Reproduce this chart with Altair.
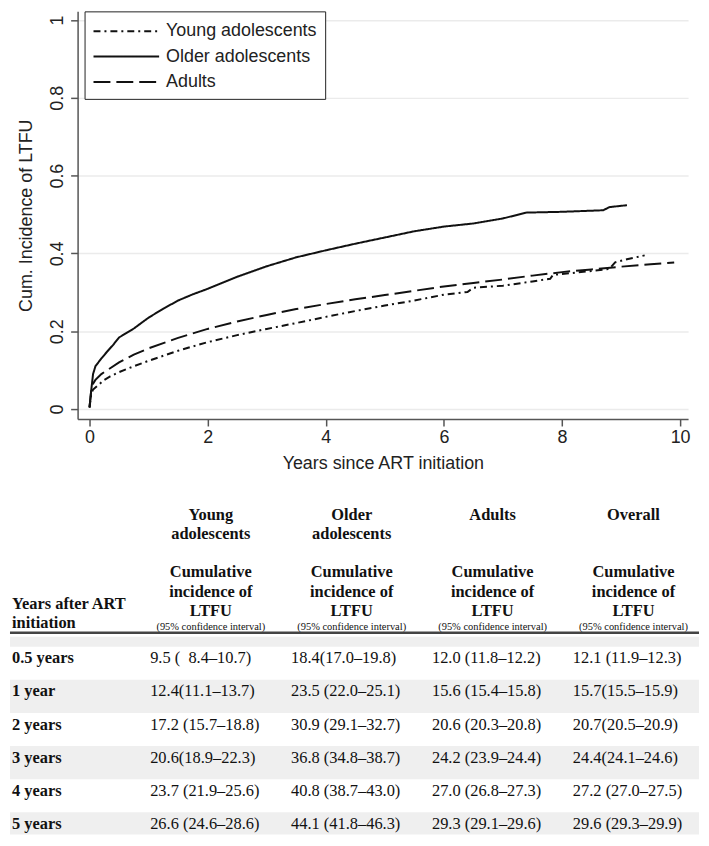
import altair as alt
import pandas as pd

# ---------------- curve data ----------------
groups = ["Young adolescents", "Older adolescents", "Adults"]

young_years = [0.0, 0.03, 0.06, 0.15, 0.25, 0.35, 0.5, 0.75, 1.0, 1.5,
               2.0, 2.5, 3.0, 3.5, 4.0, 4.5, 5.0, 5.5, 6.0, 6.4,
               6.5, 7.0, 7.5, 7.8, 7.85, 8.0, 8.5, 8.8, 8.9, 9.1, 9.4]
young_cum = [0.003, 0.04, 0.05, 0.062, 0.075, 0.084, 0.095, 0.11, 0.124, 0.15,
             0.172, 0.19, 0.206, 0.221, 0.237, 0.252, 0.266, 0.279, 0.294, 0.301,
             0.312, 0.317, 0.328, 0.335, 0.345, 0.347, 0.355, 0.36, 0.377, 0.385, 0.395]

older_years = [0.0, 0.03, 0.06, 0.1, 0.2, 0.3, 0.4, 0.5, 0.75, 1.0,
               1.25, 1.5, 1.75, 2.0, 2.5, 3.0, 3.5, 4.0, 4.5, 5.0,
               5.5, 6.0, 6.5, 7.0, 7.4, 8.0, 8.7, 8.8, 9.1]
older_cum = [0.005, 0.05, 0.09, 0.11, 0.13, 0.148, 0.165, 0.184, 0.207, 0.235,
             0.258, 0.279, 0.295, 0.309, 0.34, 0.367, 0.39, 0.408, 0.425, 0.441,
             0.457, 0.469, 0.477, 0.49, 0.505, 0.507, 0.511, 0.519, 0.524]

adult_years = [0.0, 0.03, 0.06, 0.1, 0.2, 0.35, 0.5, 0.75, 1.0, 1.5,
               2.0, 2.5, 3.0, 3.5, 4.0, 4.5, 5.0, 5.5, 6.0, 6.5,
               7.0, 7.5, 8.0, 8.5, 9.0, 9.5, 9.9]
adult_cum = [0.005, 0.05, 0.065, 0.075, 0.09, 0.105, 0.12, 0.14, 0.156, 0.183,
             0.206, 0.225, 0.242, 0.257, 0.27, 0.282, 0.293, 0.304, 0.315, 0.324,
             0.333, 0.343, 0.352, 0.359, 0.366, 0.372, 0.377]

x_ticks = [0, 2, 4, 6, 8, 10]
y_ticks = [0, 0.2, 0.4, 0.6, 0.8, 1]

# ---------------- table data ----------------
row_labels = ["0.5 years", "1 year", "2 years", "3 years", "4 years", "5 years"]
col_names = ["Young\nadolescents", "Older\nadolescents", "Adults", "Overall"]
young_ci = ["\u00a09.5 (\u00a0\u00a08.4\u201310.7)", "12.4(11.1\u201313.7)", "17.2 (15.7\u201318.8)",
            "20.6(18.9\u201322.3)", "23.7 (21.9\u201325.6)", "26.6 (24.6\u201328.6)"]
older_ci = ["18.4(17.0\u201319.8)", "23.5 (22.0\u201325.1)", "30.9 (29.1\u201332.7)",
            "36.8 (34.8\u201338.7)", "40.8 (38.7\u201343.0)", "44.1 (41.8\u201346.3)"]
adults_ci = ["12.0 (11.8\u201312.2)", "15.6 (15.4\u201315.8)", "20.6 (20.3\u201320.8)",
             "24.2 (23.9\u201324.4)", "27.0 (26.8\u201327.3)", "29.3 (29.1\u201329.6)"]
overall_ci = ["12.1 (11.9\u201312.3)", "15.7(15.5\u201315.9)", "20.7(20.5\u201320.9)",
              "24.4(24.1\u201324.6)", "27.2 (27.0\u201327.5)", "29.6 (29.3\u201329.9)"]
stub_title = "Years after ART\ninitiation"
measure_title = "Cumulative\nincidence of\nLTFU"
ci_note = "(95% confidence interval)"

# ---------------- build tables ----------------
curve_rows = []
for g, ts, vs in zip(groups, [young_years, older_years, adult_years],
                     [young_cum, older_cum, adult_cum]):
    for t, v in zip(ts, vs):
        curve_rows.append({"group": g, "years": t, "cum": v})
curve_df = pd.DataFrame(curve_rows)

cells = []
for c, vals in enumerate([young_ci, older_ci, adults_ci, overall_ci], start=1):
    for r, txt in enumerate(vals):
        cells.append({"col": c, "row": r, "txt": txt})
cells_df = pd.DataFrame(cells)
rows_df = pd.DataFrame({"row": list(range(len(row_labels))), "label": row_labels,
                        "shade": [r % 2 == 1 for r in range(len(row_labels))]})
cols_df = pd.DataFrame({"col": [1, 2, 3, 4], "name": col_names,
                        "measure": [measure_title] * 4, "note": [ci_note] * 4})
stub_df = pd.DataFrame({"stub": [stub_title]})

# ---------------- styles ----------------
SANS = "Liberation Sans"
SERIF = "Liberation Serif"
dashes = [[7, 4, 2, 4], [1, 0], [17, 6]]
PW, PH = 614, 410

# ---------------- curves ----------------
lines = alt.Chart(curve_df).mark_line(color="#111", strokeWidth=2).encode(
    x=alt.X("years:Q",
            scale=alt.Scale(domain=[-0.202, 10.135], nice=False, zero=False),
            axis=alt.Axis(title="Years since ART initiation", values=x_ticks, grid=False,
                          labelFont=SANS, labelFontSize=18, labelColor="#222",
                          titleFont=SANS, titleFontSize=18, titleFontWeight="normal",
                          titleColor="#222", titlePadding=8, labelPadding=3,
                          tickSize=7, tickColor="#555", domainColor="#555",
                          domainWidth=1.5, tickWidth=1.5, labelFlush=False)),
    y=alt.Y("cum:Q",
            scale=alt.Scale(domain=[-0.0256, 1.0222], nice=False, zero=False),
            axis=alt.Axis(title="Cum. Incidence of LTFU", values=y_ticks, format="~g",
                          labelAngle=270, labelAlign="center", labelBaseline="bottom",
                          labelFont=SANS, labelFontSize=18, labelColor="#222",
                          titleFont=SANS, titleFontSize=18, titleFontWeight="normal",
                          titleColor="#222", titlePadding=13, labelPadding=4,
                          tickSize=7, tickColor="#555", domainColor="#555",
                          domainWidth=1.5, tickWidth=1.5, labelFlush=False,
                          grid=True, gridColor="#ebebeb", gridWidth=1.5)),
    strokeDash=alt.StrokeDash("group:N",
                              scale=alt.Scale(domain=groups, range=dashes),
                              sort=groups,
                              legend=alt.Legend(title=None, orient="none", legendX=7, legendY=0,
                                                direction="vertical",
                                                fillColor="white", strokeColor="#222",
                                                padding=8, labelFont=SANS, labelFontSize=18,
                                                labelColor="#222", symbolType="M-1,0H5",
                                                symbolSize=484, symbolStrokeWidth=2,
                                                symbolStrokeColor="#111",
                                                symbolFillColor="transparent",
                                                labelOffset=50, rowPadding=4.5,
                                                labelLimit=300)),
)

# ---------------- table (drawn below the plot through its own scales) ----------------
x_dom = [-0.4255, 4.465]
T_TOP, T_BOT = -5.5, 5.17
ROW0, ROWH = 655.7, 33.3
xs = alt.Scale(domain=x_dom, range=[-68, 625], nice=False, zero=False)
ys = alt.Scale(domain=[T_TOP, T_BOT], range=[ROW0 + ROWH * T_TOP, ROW0 + ROWH * T_BOT],
               nice=False, zero=False)

base_rows = alt.Chart(rows_df)

bands = base_rows.transform_filter("datum.shade").transform_calculate(
    y0="datum.row - 0.5", y1=f"min(datum.row + 0.5, {T_BOT})"
).mark_rect(color="#efefef").encode(
    x=alt.XDatum(x_dom[0], scale=xs, axis=None), x2=alt.X2Datum(x_dom[1]),
    y=alt.Y("y0:Q", scale=ys, axis=None), y2="y1:Q")

strip = alt.Chart(stub_df).mark_rect(color="#efefef").encode(
    x=alt.XDatum(x_dom[0], scale=xs, axis=None), x2=alt.X2Datum(x_dom[1]),
    y=alt.YDatum(-0.8, scale=ys, axis=None), y2=alt.Y2Datum(-0.5))

rule = alt.Chart(stub_df).mark_rule(color="#444", strokeWidth=2.5).encode(
    x=alt.XDatum(x_dom[0], scale=xs, axis=None), x2=alt.X2Datum(x_dom[1]),
    y=alt.YDatum(-0.92, scale=ys, axis=None))

head_names = alt.Chart(cols_df).mark_text(font=SERIF, fontSize=16.5, fontWeight="bold",
                                          baseline="top", lineBreak="\n", lineHeight=19,
                                          color="#111").encode(
    x=alt.X("col:Q", scale=xs, axis=None), y=alt.YDatum(-4.73, scale=ys, axis=None),
    text="name:N")

head_measure = alt.Chart(cols_df).mark_text(font=SERIF, fontSize=16.5, fontWeight="bold",
                                            baseline="top", lineBreak="\n", lineHeight=19.5,
                                            color="#111").encode(
    x=alt.X("col:Q", scale=xs, axis=None), y=alt.YDatum(-2.99, scale=ys, axis=None),
    text="measure:N")

head_note = alt.Chart(cols_df).mark_text(font=SERIF, fontSize=10.5, baseline="middle",
                                         color="#111").encode(
    x=alt.X("col:Q", scale=xs, axis=None), y=alt.YDatum(-1.10, scale=ys, axis=None),
    text="note:N")

stub = alt.Chart(stub_df).mark_text(font=SERIF, fontSize=16.5, fontWeight="bold",
                                    baseline="top", align="left", lineBreak="\n",
                                    lineHeight=19, dx=2, color="#111").encode(
    x=alt.XDatum(x_dom[0], scale=xs, axis=None), y=alt.YDatum(-2.03, scale=ys, axis=None),
    text="stub:N")

labels = base_rows.mark_text(font=SERIF, fontSize=16.5, fontWeight="bold",
                             baseline="alphabetic", align="left", dx=2, color="#111").encode(
    x=alt.XDatum(x_dom[0], scale=xs, axis=None), y=alt.Y("row:Q", scale=ys, axis=None),
    text="label:N")

values = alt.Chart(cells_df).mark_text(font=SERIF, fontSize=16.5, baseline="alphabetic",
                                       align="left", dx=-61, color="#111").encode(
    x=alt.X("col:Q", scale=xs, axis=None), y=alt.Y("row:Q", scale=ys, axis=None),
    text="txt:N")

chart = alt.layer(bands, strip, rule, lines, head_names, head_measure, head_note,
                  stub, labels, values).resolve_scale(
    x="independent", y="independent"
).properties(
    width=PW, height=PH,
    padding={"left": 0, "top": 0, "right": 0, "bottom": 0}
).configure_view(stroke=None)

chart.save("out.html", embed_options={"renderer": "svg", "actions": False})
